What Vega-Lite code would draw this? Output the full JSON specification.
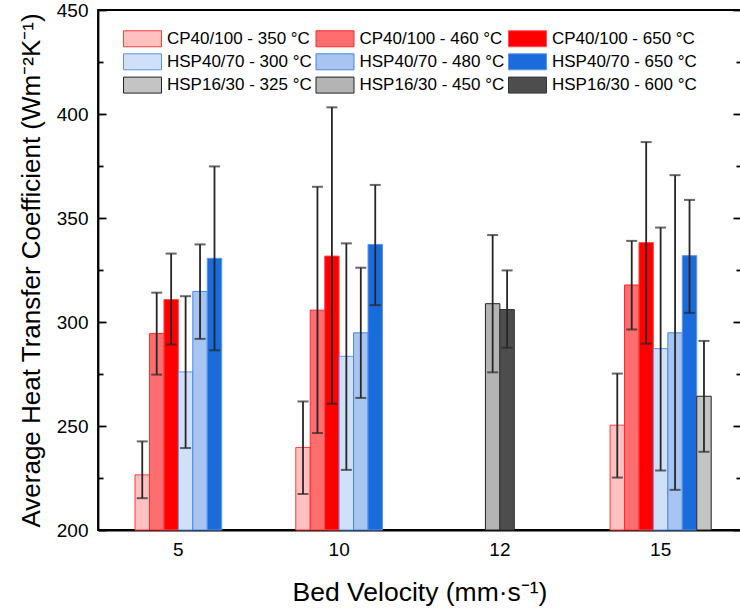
{
  "$schema": "https://vega.github.io/schema/vega-lite/v6.json",
  "autosize": "none",
  "width": 643,
  "height": 520,
  "padding": {"left": 98, "top": 10, "right": 0, "bottom": 85},
  "background": "white",
  "config": {
    "font": "Liberation Sans",
    "view": {"stroke": "#000000", "strokeWidth": 1.8}
  },
  "data": {
    "values": [
      {"v": 5, "s": "CP40/100 - 350 °C", "h": 226.5, "lo": 215.3, "hi": 242.6},
      {"v": 5, "s": "CP40/100 - 460 °C", "h": 294.5, "lo": 274.7, "hi": 314.1},
      {"v": 5, "s": "CP40/100 - 650 °C", "h": 310.8, "lo": 289.2, "hi": 332.9},
      {"v": 5, "s": "HSP40/70 - 300 °C", "h": 276.0, "lo": 239.4, "hi": 312.4},
      {"v": 5, "s": "HSP40/70 - 480 °C", "h": 314.7, "lo": 291.9, "hi": 337.3},
      {"v": 5, "s": "HSP40/70 - 650 °C", "h": 330.6, "lo": 286.4, "hi": 374.8},
      {"v": 10, "s": "CP40/100 - 350 °C", "h": 239.7, "lo": 217.3, "hi": 261.8},
      {"v": 10, "s": "CP40/100 - 460 °C", "h": 305.7, "lo": 246.6, "hi": 365.0},
      {"v": 10, "s": "CP40/100 - 650 °C", "h": 331.7, "lo": 260.7, "hi": 403.2},
      {"v": 10, "s": "HSP40/70 - 300 °C", "h": 283.5, "lo": 228.9, "hi": 337.8},
      {"v": 10, "s": "HSP40/70 - 480 °C", "h": 294.8, "lo": 263.5, "hi": 326.1},
      {"v": 10, "s": "HSP40/70 - 650 °C", "h": 337.3, "lo": 308.1, "hi": 365.9},
      {"v": 12, "s": "HSP16/30 - 450 °C", "h": 308.8, "lo": 275.8, "hi": 341.8},
      {"v": 12, "s": "HSP16/30 - 600 °C", "h": 306.0, "lo": 287.6, "hi": 324.8},
      {"v": 15, "s": "CP40/100 - 350 °C", "h": 250.4, "lo": 225.2, "hi": 275.2},
      {"v": 15, "s": "CP40/100 - 460 °C", "h": 317.8, "lo": 296.4, "hi": 339.0},
      {"v": 15, "s": "CP40/100 - 650 °C", "h": 338.2, "lo": 289.6, "hi": 386.5},
      {"v": 15, "s": "HSP40/70 - 300 °C", "h": 287.2, "lo": 228.6, "hi": 345.4},
      {"v": 15, "s": "HSP40/70 - 480 °C", "h": 294.8, "lo": 219.3, "hi": 370.6},
      {"v": 15, "s": "HSP40/70 - 650 °C", "h": 331.9, "lo": 304.4, "hi": 358.7},
      {"v": 15, "s": "HSP16/30 - 325 °C", "h": 264.3, "lo": 237.6, "hi": 290.9}
    ]
  },
  "encoding": {
    "x": {
      "field": "v",
      "type": "ordinal",
      "scale": {"domain": [5, 10, 12, 15], "paddingInner": 0, "paddingOuter": 0},
      "title": "Bed Velocity (mm·s⁻¹)",
      "axis": {
        "orient": "bottom",
        "ticks": false,
        "domainColor": "#000000",
        "domainWidth": 1.8,
        "labelFontSize": 19,
        "labelColor": "#000000",
        "labelPadding": 10,
        "labelAngle": 0,
        "titleFontSize": 26.5,
        "titleFontWeight": "normal",
        "titleColor": "#000000",
        "titlePadding": 20
      }
    }
  },
  "layer": [
    {
      "transform": [{"filter": "datum.v === 5"}],
      "mark": {"type": "bar", "strokeWidth": 1},
      "encoding": {
        "xOffset": {"field": "s", "type": "nominal", "sort": ["CP40/100 - 350 °C", "CP40/100 - 460 °C", "CP40/100 - 650 °C", "HSP40/70 - 300 °C", "HSP40/70 - 480 °C", "HSP40/70 - 650 °C", "HSP16/30 - 325 °C", "HSP16/30 - 450 °C", "HSP16/30 - 600 °C"], "scale": {"range": [37.03, 123.72], "paddingInner": 0, "paddingOuter": 0}},
        "y": {
          "field": "h", "type": "quantitative", "scale": {"domain": [200, 450]},
          "title": "Average Heat Transfer Coefficient (Wm⁻²K⁻¹)",
          "axis": {
            "orient": "left",
            "values": [200, 225, 250, 275, 300, 325, 350, 375, 400, 425, 450],
            "labelExpr": "datum.value % 50 === 0 ? datum.label : ''",
            "tickSize": {"condition": {"test": "datum.value % 50 === 0", "value": -8}, "value": -5},
            "tickColor": "#000000",
            "tickWidth": 1.8,
            "domainColor": "#000000",
            "domainWidth": 1.8,
            "grid": false,
            "labelFontSize": 19,
            "labelColor": "#000000",
            "labelPadding": 18,
            "labelFlush": false,
            "labelOverlap": false,
            "titleFontSize": 26,
            "titleFontWeight": "normal",
            "titleColor": "#000000",
            "titlePadding": 12
          }
        },
        "y2": {"datum": 200},
        "fill": {
          "field": "s", "type": "nominal",
          "scale": {"domain": ["CP40/100 - 350 °C", "HSP40/70 - 300 °C", "HSP16/30 - 325 °C", "CP40/100 - 460 °C", "HSP40/70 - 480 °C", "HSP16/30 - 450 °C", "CP40/100 - 650 °C", "HSP40/70 - 650 °C", "HSP16/30 - 600 °C"], "range": ["#ffc0c0", "#d0e0f8", "#c4c4c4", "#ff6e6e", "#a8c5f1", "#b4b4b4", "#ff0000", "#1a6cdc", "#4d4d4d"]},
          "legend": {"title": null, "orient": "none", "legendX": 36, "legendY": 20, "columns": 3, "columnPadding": 1.5, "rowPadding": 2.3, "padding": 0, "symbolType": "M-2.375,-1H2.375V1H-2.375Z", "symbolSize": 256, "symbolStrokeWidth": 1, "labelFontSize": 17, "labelColor": "#000000", "labelOffset": 16, "labelLimit": 300}
        },
        "stroke": {
          "field": "s", "type": "nominal",
          "scale": {"domain": ["CP40/100 - 350 °C", "HSP40/70 - 300 °C", "HSP16/30 - 325 °C", "CP40/100 - 460 °C", "HSP40/70 - 480 °C", "HSP16/30 - 450 °C", "CP40/100 - 650 °C", "HSP40/70 - 650 °C", "HSP16/30 - 600 °C"], "range": ["#ff3b3b", "#5b93e6", "#222222", "#ff2a2a", "#4a86e0", "#222222", "#ff4d4d", "#5a95e8", "#333333"]},
          "legend": {"title": null, "orient": "none", "legendX": 36, "legendY": 20, "columns": 3, "columnPadding": 1.5, "rowPadding": 2.3, "padding": 0, "symbolType": "M-2.375,-1H2.375V1H-2.375Z", "symbolSize": 256, "symbolStrokeWidth": 1, "labelFontSize": 17, "labelColor": "#000000", "labelOffset": 16, "labelLimit": 300}
        }
      }
    },
    {
      "transform": [{"filter": "datum.v === 5"}],
      "mark": {"type": "rule", "color": "#262626", "strokeWidth": 1.8},
      "encoding": {
        "xOffset": {"field": "s", "type": "nominal", "sort": ["CP40/100 - 350 °C", "CP40/100 - 460 °C", "CP40/100 - 650 °C", "HSP40/70 - 300 °C", "HSP40/70 - 480 °C", "HSP40/70 - 650 °C", "HSP16/30 - 325 °C", "HSP16/30 - 450 °C", "HSP16/30 - 600 °C"], "scale": {"range": [37.03, 123.72], "paddingInner": 0, "paddingOuter": 0}},
        "y": {"field": "lo", "type": "quantitative", "scale": {"domain": [200, 450]}, "axis": null},
        "y2": {"field": "hi"}
      }
    },
    {
      "transform": [{"filter": "datum.v === 5"}, {"fold": ["lo", "hi"], "as": ["k", "e"]}],
      "mark": {"type": "tick", "color": "#262626", "thickness": 2, "size": 11, "orient": "horizontal"},
      "encoding": {
        "xOffset": {"field": "s", "type": "nominal", "sort": ["CP40/100 - 350 °C", "CP40/100 - 460 °C", "CP40/100 - 650 °C", "HSP40/70 - 300 °C", "HSP40/70 - 480 °C", "HSP40/70 - 650 °C", "HSP16/30 - 325 °C", "HSP16/30 - 450 °C", "HSP16/30 - 600 °C"], "scale": {"range": [37.03, 123.72], "paddingInner": 0, "paddingOuter": 0}},
        "y": {"field": "e", "type": "quantitative", "scale": {"domain": [200, 450]}, "axis": null}
      }
    },
    {
      "transform": [{"filter": "datum.v === 10"}],
      "mark": {"type": "bar", "strokeWidth": 1},
      "encoding": {
        "xOffset": {"field": "s", "type": "nominal", "sort": ["CP40/100 - 350 °C", "CP40/100 - 460 °C", "CP40/100 - 650 °C", "HSP40/70 - 300 °C", "HSP40/70 - 480 °C", "HSP40/70 - 650 °C", "HSP16/30 - 325 °C", "HSP16/30 - 450 °C", "HSP16/30 - 600 °C"], "scale": {"range": [37.03, 123.72], "paddingInner": 0, "paddingOuter": 0}},
        "y": {"field": "h", "type": "quantitative", "scale": {"domain": [200, 450]}, "axis": null},
        "y2": {"datum": 200},
        "fill": {
          "field": "s", "type": "nominal",
          "scale": {"domain": ["CP40/100 - 350 °C", "HSP40/70 - 300 °C", "HSP16/30 - 325 °C", "CP40/100 - 460 °C", "HSP40/70 - 480 °C", "HSP16/30 - 450 °C", "CP40/100 - 650 °C", "HSP40/70 - 650 °C", "HSP16/30 - 600 °C"], "range": ["#ffc0c0", "#d0e0f8", "#c4c4c4", "#ff6e6e", "#a8c5f1", "#b4b4b4", "#ff0000", "#1a6cdc", "#4d4d4d"]},
          "legend": {"title": null, "orient": "none", "legendX": 36, "legendY": 20, "columns": 3, "columnPadding": 1.5, "rowPadding": 2.3, "padding": 0, "symbolType": "M-2.375,-1H2.375V1H-2.375Z", "symbolSize": 256, "symbolStrokeWidth": 1, "labelFontSize": 17, "labelColor": "#000000", "labelOffset": 16, "labelLimit": 300}
        },
        "stroke": {
          "field": "s", "type": "nominal",
          "scale": {"domain": ["CP40/100 - 350 °C", "HSP40/70 - 300 °C", "HSP16/30 - 325 °C", "CP40/100 - 460 °C", "HSP40/70 - 480 °C", "HSP16/30 - 450 °C", "CP40/100 - 650 °C", "HSP40/70 - 650 °C", "HSP16/30 - 600 °C"], "range": ["#ff3b3b", "#5b93e6", "#222222", "#ff2a2a", "#4a86e0", "#222222", "#ff4d4d", "#5a95e8", "#333333"]},
          "legend": {"title": null, "orient": "none", "legendX": 36, "legendY": 20, "columns": 3, "columnPadding": 1.5, "rowPadding": 2.3, "padding": 0, "symbolType": "M-2.375,-1H2.375V1H-2.375Z", "symbolSize": 256, "symbolStrokeWidth": 1, "labelFontSize": 17, "labelColor": "#000000", "labelOffset": 16, "labelLimit": 300}
        }
      }
    },
    {
      "transform": [{"filter": "datum.v === 10"}],
      "mark": {"type": "rule", "color": "#262626", "strokeWidth": 1.8},
      "encoding": {
        "xOffset": {"field": "s", "type": "nominal", "sort": ["CP40/100 - 350 °C", "CP40/100 - 460 °C", "CP40/100 - 650 °C", "HSP40/70 - 300 °C", "HSP40/70 - 480 °C", "HSP40/70 - 650 °C", "HSP16/30 - 325 °C", "HSP16/30 - 450 °C", "HSP16/30 - 600 °C"], "scale": {"range": [37.03, 123.72], "paddingInner": 0, "paddingOuter": 0}},
        "y": {"field": "lo", "type": "quantitative", "scale": {"domain": [200, 450]}, "axis": null},
        "y2": {"field": "hi"}
      }
    },
    {
      "transform": [{"filter": "datum.v === 10"}, {"fold": ["lo", "hi"], "as": ["k", "e"]}],
      "mark": {"type": "tick", "color": "#262626", "thickness": 2, "size": 11, "orient": "horizontal"},
      "encoding": {
        "xOffset": {"field": "s", "type": "nominal", "sort": ["CP40/100 - 350 °C", "CP40/100 - 460 °C", "CP40/100 - 650 °C", "HSP40/70 - 300 °C", "HSP40/70 - 480 °C", "HSP40/70 - 650 °C", "HSP16/30 - 325 °C", "HSP16/30 - 450 °C", "HSP16/30 - 600 °C"], "scale": {"range": [37.03, 123.72], "paddingInner": 0, "paddingOuter": 0}},
        "y": {"field": "e", "type": "quantitative", "scale": {"domain": [200, 450]}, "axis": null}
      }
    },
    {
      "transform": [{"filter": "datum.v === 12"}],
      "mark": {"type": "bar", "strokeWidth": 1},
      "encoding": {
        "xOffset": {"field": "s", "type": "nominal", "sort": ["CP40/100 - 350 °C", "CP40/100 - 460 °C", "CP40/100 - 650 °C", "HSP40/70 - 300 °C", "HSP40/70 - 480 °C", "HSP40/70 - 650 °C", "HSP16/30 - 325 °C", "HSP16/30 - 450 °C", "HSP16/30 - 600 °C"], "scale": {"range": [65.93, 94.83], "paddingInner": 0, "paddingOuter": 0}},
        "y": {"field": "h", "type": "quantitative", "scale": {"domain": [200, 450]}, "axis": null},
        "y2": {"datum": 200},
        "fill": {
          "field": "s", "type": "nominal",
          "scale": {"domain": ["CP40/100 - 350 °C", "HSP40/70 - 300 °C", "HSP16/30 - 325 °C", "CP40/100 - 460 °C", "HSP40/70 - 480 °C", "HSP16/30 - 450 °C", "CP40/100 - 650 °C", "HSP40/70 - 650 °C", "HSP16/30 - 600 °C"], "range": ["#ffc0c0", "#d0e0f8", "#c4c4c4", "#ff6e6e", "#a8c5f1", "#b4b4b4", "#ff0000", "#1a6cdc", "#4d4d4d"]},
          "legend": {"title": null, "orient": "none", "legendX": 36, "legendY": 20, "columns": 3, "columnPadding": 1.5, "rowPadding": 2.3, "padding": 0, "symbolType": "M-2.375,-1H2.375V1H-2.375Z", "symbolSize": 256, "symbolStrokeWidth": 1, "labelFontSize": 17, "labelColor": "#000000", "labelOffset": 16, "labelLimit": 300}
        },
        "stroke": {
          "field": "s", "type": "nominal",
          "scale": {"domain": ["CP40/100 - 350 °C", "HSP40/70 - 300 °C", "HSP16/30 - 325 °C", "CP40/100 - 460 °C", "HSP40/70 - 480 °C", "HSP16/30 - 450 °C", "CP40/100 - 650 °C", "HSP40/70 - 650 °C", "HSP16/30 - 600 °C"], "range": ["#ff3b3b", "#5b93e6", "#222222", "#ff2a2a", "#4a86e0", "#222222", "#ff4d4d", "#5a95e8", "#333333"]},
          "legend": {"title": null, "orient": "none", "legendX": 36, "legendY": 20, "columns": 3, "columnPadding": 1.5, "rowPadding": 2.3, "padding": 0, "symbolType": "M-2.375,-1H2.375V1H-2.375Z", "symbolSize": 256, "symbolStrokeWidth": 1, "labelFontSize": 17, "labelColor": "#000000", "labelOffset": 16, "labelLimit": 300}
        }
      }
    },
    {
      "transform": [{"filter": "datum.v === 12"}],
      "mark": {"type": "rule", "color": "#262626", "strokeWidth": 1.8},
      "encoding": {
        "xOffset": {"field": "s", "type": "nominal", "sort": ["CP40/100 - 350 °C", "CP40/100 - 460 °C", "CP40/100 - 650 °C", "HSP40/70 - 300 °C", "HSP40/70 - 480 °C", "HSP40/70 - 650 °C", "HSP16/30 - 325 °C", "HSP16/30 - 450 °C", "HSP16/30 - 600 °C"], "scale": {"range": [65.93, 94.83], "paddingInner": 0, "paddingOuter": 0}},
        "y": {"field": "lo", "type": "quantitative", "scale": {"domain": [200, 450]}, "axis": null},
        "y2": {"field": "hi"}
      }
    },
    {
      "transform": [{"filter": "datum.v === 12"}, {"fold": ["lo", "hi"], "as": ["k", "e"]}],
      "mark": {"type": "tick", "color": "#262626", "thickness": 2, "size": 11, "orient": "horizontal"},
      "encoding": {
        "xOffset": {"field": "s", "type": "nominal", "sort": ["CP40/100 - 350 °C", "CP40/100 - 460 °C", "CP40/100 - 650 °C", "HSP40/70 - 300 °C", "HSP40/70 - 480 °C", "HSP40/70 - 650 °C", "HSP16/30 - 325 °C", "HSP16/30 - 450 °C", "HSP16/30 - 600 °C"], "scale": {"range": [65.93, 94.83], "paddingInner": 0, "paddingOuter": 0}},
        "y": {"field": "e", "type": "quantitative", "scale": {"domain": [200, 450]}, "axis": null}
      }
    },
    {
      "transform": [{"filter": "datum.v === 15"}],
      "mark": {"type": "bar", "strokeWidth": 1},
      "encoding": {
        "xOffset": {"field": "s", "type": "nominal", "sort": ["CP40/100 - 350 °C", "CP40/100 - 460 °C", "CP40/100 - 650 °C", "HSP40/70 - 300 °C", "HSP40/70 - 480 °C", "HSP40/70 - 650 °C", "HSP16/30 - 325 °C", "HSP16/30 - 450 °C", "HSP16/30 - 600 °C"], "scale": {"range": [29.8, 130.95], "paddingInner": 0, "paddingOuter": 0}},
        "y": {"field": "h", "type": "quantitative", "scale": {"domain": [200, 450]}, "axis": null},
        "y2": {"datum": 200},
        "fill": {
          "field": "s", "type": "nominal",
          "scale": {"domain": ["CP40/100 - 350 °C", "HSP40/70 - 300 °C", "HSP16/30 - 325 °C", "CP40/100 - 460 °C", "HSP40/70 - 480 °C", "HSP16/30 - 450 °C", "CP40/100 - 650 °C", "HSP40/70 - 650 °C", "HSP16/30 - 600 °C"], "range": ["#ffc0c0", "#d0e0f8", "#c4c4c4", "#ff6e6e", "#a8c5f1", "#b4b4b4", "#ff0000", "#1a6cdc", "#4d4d4d"]},
          "legend": {"title": null, "orient": "none", "legendX": 36, "legendY": 20, "columns": 3, "columnPadding": 1.5, "rowPadding": 2.3, "padding": 0, "symbolType": "M-2.375,-1H2.375V1H-2.375Z", "symbolSize": 256, "symbolStrokeWidth": 1, "labelFontSize": 17, "labelColor": "#000000", "labelOffset": 16, "labelLimit": 300}
        },
        "stroke": {
          "field": "s", "type": "nominal",
          "scale": {"domain": ["CP40/100 - 350 °C", "HSP40/70 - 300 °C", "HSP16/30 - 325 °C", "CP40/100 - 460 °C", "HSP40/70 - 480 °C", "HSP16/30 - 450 °C", "CP40/100 - 650 °C", "HSP40/70 - 650 °C", "HSP16/30 - 600 °C"], "range": ["#ff3b3b", "#5b93e6", "#222222", "#ff2a2a", "#4a86e0", "#222222", "#ff4d4d", "#5a95e8", "#333333"]},
          "legend": {"title": null, "orient": "none", "legendX": 36, "legendY": 20, "columns": 3, "columnPadding": 1.5, "rowPadding": 2.3, "padding": 0, "symbolType": "M-2.375,-1H2.375V1H-2.375Z", "symbolSize": 256, "symbolStrokeWidth": 1, "labelFontSize": 17, "labelColor": "#000000", "labelOffset": 16, "labelLimit": 300}
        }
      }
    },
    {
      "transform": [{"filter": "datum.v === 15"}],
      "mark": {"type": "rule", "color": "#262626", "strokeWidth": 1.8},
      "encoding": {
        "xOffset": {"field": "s", "type": "nominal", "sort": ["CP40/100 - 350 °C", "CP40/100 - 460 °C", "CP40/100 - 650 °C", "HSP40/70 - 300 °C", "HSP40/70 - 480 °C", "HSP40/70 - 650 °C", "HSP16/30 - 325 °C", "HSP16/30 - 450 °C", "HSP16/30 - 600 °C"], "scale": {"range": [29.8, 130.95], "paddingInner": 0, "paddingOuter": 0}},
        "y": {"field": "lo", "type": "quantitative", "scale": {"domain": [200, 450]}, "axis": null},
        "y2": {"field": "hi"}
      }
    },
    {
      "transform": [{"filter": "datum.v === 15"}, {"fold": ["lo", "hi"], "as": ["k", "e"]}],
      "mark": {"type": "tick", "color": "#262626", "thickness": 2, "size": 11, "orient": "horizontal"},
      "encoding": {
        "xOffset": {"field": "s", "type": "nominal", "sort": ["CP40/100 - 350 °C", "CP40/100 - 460 °C", "CP40/100 - 650 °C", "HSP40/70 - 300 °C", "HSP40/70 - 480 °C", "HSP40/70 - 650 °C", "HSP16/30 - 325 °C", "HSP16/30 - 450 °C", "HSP16/30 - 600 °C"], "scale": {"range": [29.8, 130.95], "paddingInner": 0, "paddingOuter": 0}},
        "y": {"field": "e", "type": "quantitative", "scale": {"domain": [200, 450]}, "axis": null}
      }
    },
    {
      "mark": {"type": "rule", "opacity": 0},
      "encoding": {
        "y": {
          "datum": 200, "type": "quantitative", "scale": {"domain": [200, 450]},
          "axis": {
            "orient": "right",
            "values": [200, 225, 250, 275, 300, 325, 350, 375, 400, 425, 450],
            "labels": false,
            "title": null,
            "tickSize": {"condition": {"test": "datum.value % 50 === 0", "value": -8}, "value": -5},
            "tickColor": "#000000",
            "tickWidth": 1.8,
            "domainColor": "#000000",
            "domainWidth": 1.8,
            "grid": false
          }
        }
      }
    }
  ],
  "resolve": {"scale": {"xOffset": "independent"}, "axis": {"y": "independent"}}
}
